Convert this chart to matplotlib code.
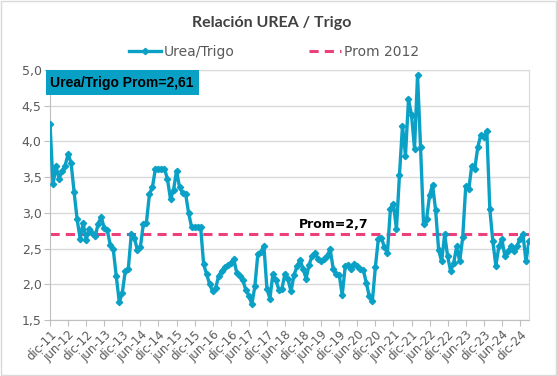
import matplotlib
matplotlib.use("Agg")
import matplotlib.pyplot as plt
from matplotlib.patches import Rectangle

# monthly ratio urea / wheat, dic-11 .. mar-25
ratio = [
    4.25, 3.40, 3.65, 3.48, 3.58, 3.66, 3.82, 3.70, 3.29, 2.91,
    2.64, 2.86, 2.62, 2.77, 2.72, 2.67, 2.85, 2.94, 2.79, 2.76,
    2.55, 2.49, 2.11, 1.75, 1.88, 2.19, 2.22, 2.71, 2.65, 2.48,
    2.52, 2.85, 2.86, 3.26, 3.36, 3.62, 3.62, 3.62, 3.62, 3.47,
    3.19, 3.32, 3.59, 3.36, 3.28, 3.27, 3.00, 2.80, 2.80, 2.80,
    2.80, 2.28, 2.14, 2.00, 1.90, 1.95, 2.12, 2.19, 2.24, 2.27,
    2.30, 2.35, 2.16, 2.12, 2.06, 1.92, 1.84, 1.72, 1.97, 2.43,
    2.45, 2.54, 1.94, 1.80, 2.15, 2.06, 1.92, 1.94, 2.15, 2.07,
    1.90, 2.13, 2.25, 2.34, 2.22, 2.08, 2.27, 2.40, 2.44, 2.36,
    2.32, 2.36, 2.40, 2.49, 2.22, 2.15, 2.13, 1.85, 2.25, 2.27,
    2.22, 2.29, 2.25, 2.22, 2.20, 2.02, 1.83, 1.76, 2.24, 2.64,
    2.65, 2.52, 2.44, 3.06, 3.13, 2.77, 3.53, 4.22, 3.80, 4.59,
    4.37, 3.90, 4.93, 3.92, 2.84, 2.91, 3.25, 3.39, 3.04, 2.48,
    2.32, 2.70, 2.39, 2.18, 2.30, 2.53, 2.32, 2.66, 3.37, 3.33,
    3.66, 3.62, 3.92, 4.09, 4.06, 4.15, 3.05, 2.60, 2.26, 2.53,
    2.63, 2.39, 2.46, 2.53, 2.46, 2.53, 2.64, 2.70, 2.32, 2.60,
]
prom_2012 = 2.7
prom_total = 2.61

tick_labels = []
for yr in range(11, 25):
    if yr > 11:
        tick_labels.append(f"jun-{yr}")
    tick_labels.append(f"dic-{yr}")

months = list(range(len(ratio)))

fig = plt.figure(figsize=(5.57, 3.76), dpi=100)
ax = fig.add_axes([50 / 557, 1 - 320 / 376, 479 / 557, 250 / 376])

blue = "#0BA1C6"
pink = "#EC3F7C"
grey = "#595959"

ax.plot(months, ratio, color=blue, lw=2.4, marker="D", ms=3.2, label="Urea/Trigo", zorder=3)
ax.plot([0, len(ratio) - 1], [prom_2012, prom_2012], color=pink, lw=2.2,
        ls=(0, (3, 2)), label="Prom 2012", zorder=2)

ax.set_ylim(1.5, 5.0)
ax.set_xlim(0, len(ratio) - 1)
yt = [1.5 + 0.5 * i for i in range(8)]
ax.set_yticks(yt)
ax.set_yticklabels([f"{v:.1f}".replace(".", ",") for v in yt], fontsize=9, color=grey)
ax.set_xticks(range(0, 6 * len(tick_labels), 6))
ax.set_xticklabels(tick_labels, rotation=45, ha="right", rotation_mode="anchor",
                   fontsize=8.5, color=grey)
ax.grid(axis="y", color="#D9D9D9", lw=1)
ax.set_axisbelow(True)
for s in ["top", "right"]:
    ax.spines[s].set_color("#D9D9D9")
for s in ["left", "bottom"]:
    ax.spines[s].set_color("#BFBFBF")
ax.tick_params(axis="both", color="#BFBFBF", length=4, pad=2)

ax.text(82.5, prom_2012 + 0.04, "Prom=2,7",
        fontsize=9, fontweight="bold", ha="left", va="bottom")

# box with overall average
fig.patches.append(Rectangle((46 / 557, 1 - 95 / 376), 153 / 557, 25 / 376,
                             transform=fig.transFigure, facecolor="#08A0C4",
                             edgecolor="none", zorder=5))
fig.text(122 / 557, 1 - 83 / 376, f"Urea/Trigo Prom={prom_total:.2f}".replace(".", ","),
         fontsize=10, fontweight="bold", family="Liberation Sans", ha="center", va="center",
         zorder=6)

fig.text(272 / 557, 1 - 23 / 376, "Relación UREA / Trigo", fontsize=11.5, fontweight="bold",
         color="#404040", family="Lato", ha="center", va="center")
fig.legend(loc="center", bbox_to_anchor=(274 / 557, 1 - 52 / 376), ncol=2, frameon=False,
           fontsize=10, columnspacing=5.3, handlelength=2.3, handletextpad=0.25,
           labelcolor="#595959")

fig.patches.append(Rectangle((0.001, 0.002), 0.997, 0.995, transform=fig.transFigure,
                             facecolor="none", edgecolor="#D9D9D9", lw=1))

fig.savefig("out.png", dpi=100)
